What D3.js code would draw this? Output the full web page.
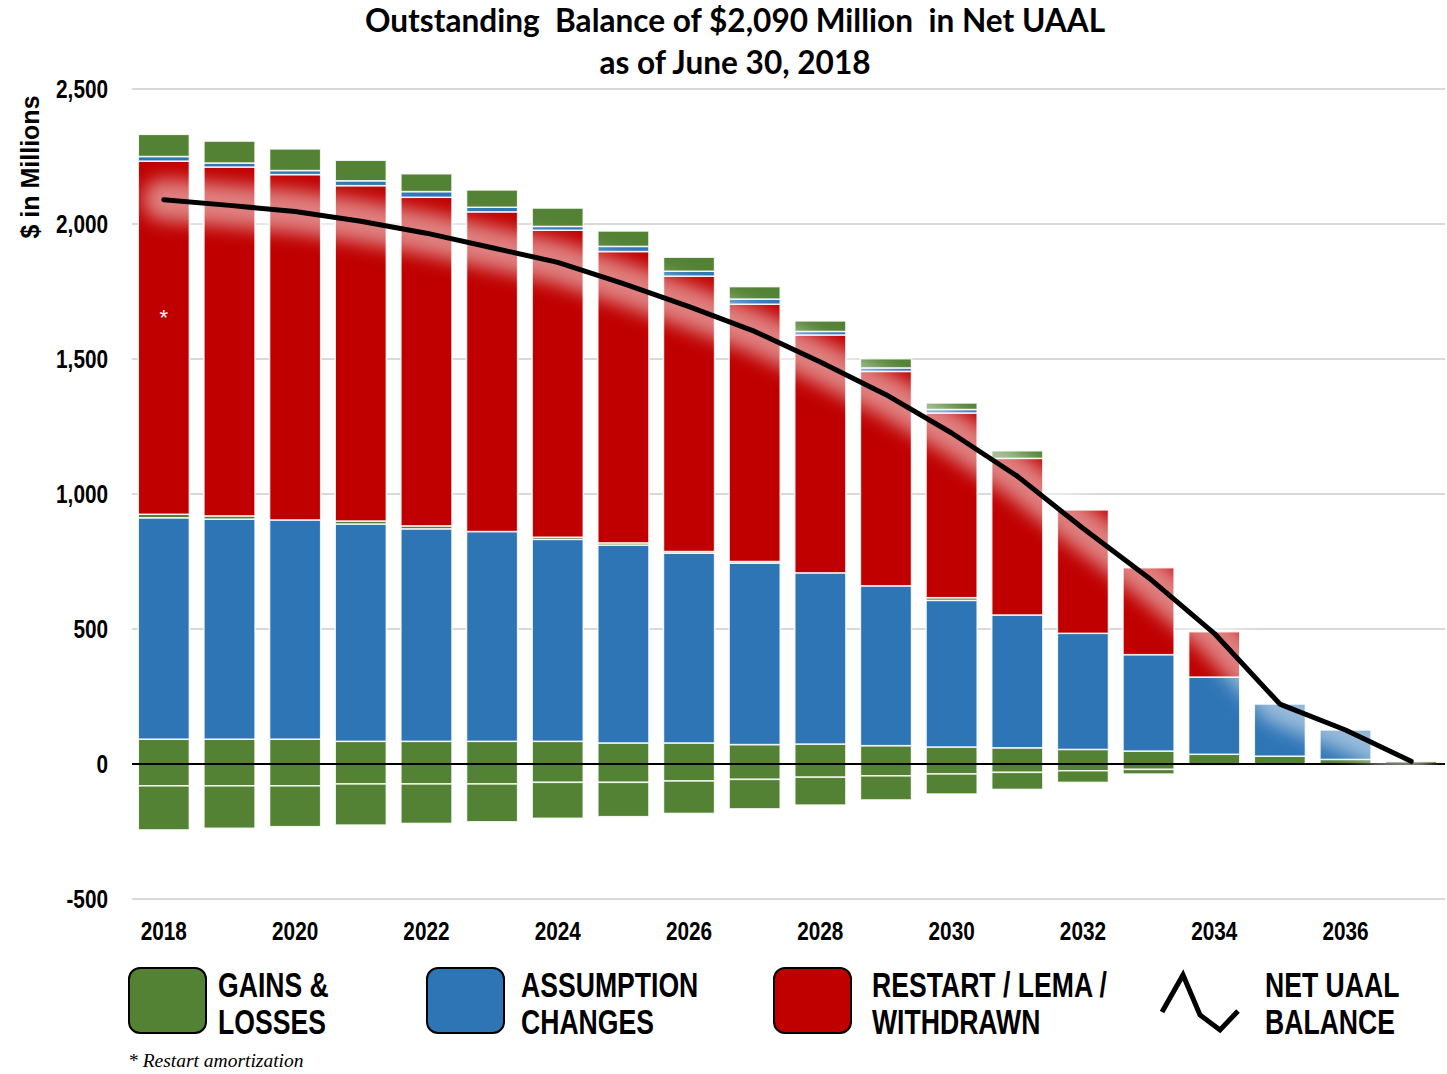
<!DOCTYPE html>
<html><head><meta charset="utf-8">
<script src="https://cdn.jsdelivr.net/npm/d3@7"></script>
<style>
html,body{margin:0;padding:0;background:#fff;}
svg{display:block;}
.narrow{font-family:"Liberation Sans",Arial,sans-serif;font-weight:bold;}
</style></head>
<body>
<svg id="chart" width="1447" height="1074"></svg>
<script>
const years = [2018,2019,2020,2021,2022,2023,2024,2025,2026,2027,2028,2029,2030,2031,2032,2033,2034,2035,2036,2037];
const gainsLossesBase   = [92,92,92,84,84,84,84,78,78,72,74,68,63,60,54,48,36,29,17,10];
const assumptionChanges = [820,815,812,805,787,777,748,733,703,672,634,592,543,492,430,357,286,193,109,0];
const gainsLossesMid    = [13,12,0,11,11,0,8,8,6,6,0,0,10,0,0,0,0,0,0,0];
const restartLemaWithdrawn = [1308,1292,1279,1242,1217,1184,1137,1079,1020,953,881,794,684,580,457,322,168,0,0,0];
const assumptionTop     = [17,15,15,18,21,17,14,19,18,19,13,13,13,0,0,0,0,0,0,0];
const gainsLossesTop    = [82,81,80,76,66,64,68,57,52,46,39,34,24,28,0,0,0,0,0,0];
const gainsLossesNeg1   = [-81,-81,-81,-74,-74,-74,-68,-68,-63,-57,-49,-44,-37,-31,-25,-20,-6,0,0,0];
const gainsLossesNeg2   = [-163,-157,-151,-152,-146,-140,-133,-127,-120,-109,-103,-89,-74,-63,-43,-17,0,0,0,0];
const netUAAL = [2090,2069,2046,2010,1966,1912,1858,1779,1694,1602,1489,1368,1226,1066,873,690,484,222,126,10];
const yTicks = [-500,0,500,1000,1500,2000,2500];
const xTickYears = [2018,2020,2022,2024,2026,2028,2030,2032,2034,2036];

const GREEN="#548235", BLUE="#2E75B6", RED="#C00000";
const keys = ["glBase","assump","glMid","restart","assumpTop","glTop","glNeg1","glNeg2"];
const colorOf = {glBase:GREEN,assump:BLUE,glMid:GREEN,restart:RED,assumpTop:BLUE,glTop:GREEN,glNeg1:GREEN,glNeg2:GREEN};
const rows = years.map((y,i)=>({year:y,glBase:gainsLossesBase[i],assump:assumptionChanges[i],glMid:gainsLossesMid[i],
  restart:restartLemaWithdrawn[i],assumpTop:assumptionTop[i],glTop:gainsLossesTop[i],glNeg1:gainsLossesNeg1[i],glNeg2:gainsLossesNeg2[i]}));

const svg = d3.select("#chart");
const x = d3.scaleBand().domain(years).range([131,1444]).paddingInner(0.222).paddingOuter(0.111);
const y = d3.scaleLinear().domain([-500,2500]).range([899,89]);
const xL = 132, xR = 1445;

function ntext(g, px, py, txt, size, sx, anchor){
  return g.append("text").attr("class","narrow")
    .attr("transform",`translate(${px},${py}) scale(${sx},1)`)
    .attr("dy","0.36em").attr("text-anchor",anchor||"start").attr("font-size",size).attr("fill","#000").text(txt);
}

const defs = svg.append("defs");
const f = defs.append("filter").attr("id","glow").attr("x","-20%").attr("y","-20%").attr("width","140%").attr("height","140%");
f.append("feGaussianBlur").attr("stdDeviation",9);

// gridlines
svg.append("g").selectAll("line").data(yTicks.filter(t=>t!==0)).join("line")
  .attr("x1",xL).attr("x2",xR).attr("y1",d=>y(d)).attr("y2",d=>y(d))
  .attr("stroke","#d9d9d9").attr("stroke-width",2);

// y tick labels
const fmt = d=>d3.format(",")(d).replace("\u2212","-");
const yg = svg.append("g");
yTicks.forEach(t=>ntext(yg,108,y(t),fmt(t),25,0.83,"end"));

// stacked bars
const series = d3.stack().keys(keys).offset(d3.stackOffsetDiverging)(rows);
svg.append("g").selectAll("g").data(series).join("g").attr("fill",s=>colorOf[s.key])
  .selectAll("rect").data(s=>s.filter(d=>d[1]!==d[0])).join("rect")
  .attr("x",d=>x(d.data.year)).attr("width",x.bandwidth())
  .attr("y",d=>y(Math.max(d[0],d[1]))).attr("height",d=>Math.abs(y(d[0])-y(d[1])))
  .attr("stroke","#fff").attr("stroke-opacity",0.85).attr("stroke-width",1.5);

// zero line
svg.append("line").attr("x1",xL).attr("x2",xR).attr("y1",y(0)).attr("y2",y(0)).attr("stroke","#000").attr("stroke-width",2);

// asterisk
svg.append("text").attr("x",x(2018)+x.bandwidth()/2).attr("y",y(1670)).attr("dy","0.55em").attr("text-anchor","middle")
  .attr("font-family","Liberation Sans, Arial, sans-serif").attr("font-size",22).attr("fill","#fff").text("*");

// net line with glow
const line = d3.line().x((d,i)=>x(years[i])+x.bandwidth()/2).y(d=>y(d));
svg.append("path").datum(netUAAL).attr("d",line).attr("fill","none").attr("stroke","#fff")
  .attr("stroke-width",42).attr("stroke-opacity",0.5).attr("stroke-linecap","round").attr("stroke-linejoin","round").attr("filter","url(#glow)");
svg.append("path").datum(netUAAL).attr("d",line).attr("fill","none").attr("stroke","#000")
  .attr("stroke-width",5).attr("stroke-linejoin","round").attr("stroke-linecap","round");

// x labels
const xg = svg.append("g");
xTickYears.forEach(t=>ntext(xg,x(t)+x.bandwidth()/2,931,String(t),25,0.83,"middle"));

// y axis title
svg.append("text").attr("class","narrow").attr("transform","translate(30,167) rotate(-90)")
  .attr("text-anchor","middle").attr("dy","0.36em").attr("font-size",25).text("$ in Millions");

// title
const tg = svg.append("g").attr("font-family","Lato, 'Open Sans', sans-serif").attr("font-weight","bold").attr("font-size",31.6).attr("text-anchor","middle");
tg.append("text").attr("x",735).attr("y",21).attr("dy","0.36em").attr("xml:space","preserve").text("Outstanding  Balance of $2,090 Million  in Net UAAL");
tg.append("text").attr("x",735).attr("y",63).attr("dy","0.36em").text("as of June 30, 2018");

// legend
const legendItems = [
  {x:129,color:GREEN,lines:["GAINS &","LOSSES"],tx:218},
  {x:427,color:BLUE,lines:["ASSUMPTION","CHANGES"],tx:521},
  {x:774,color:RED,lines:["RESTART / LEMA /","WITHDRAWN"],tx:872},
];
const lg = svg.append("g");
legendItems.forEach(it=>{
  lg.append("rect").attr("x",it.x).attr("y",968).attr("width",77).attr("height",65).attr("rx",11)
    .attr("fill",it.color).attr("stroke","#000").attr("stroke-width",2);
  it.lines.forEach((t,j)=>ntext(lg,it.tx,984+j*37,t,35,0.76));
});
lg.append("path").attr("d","M1162,1012 L1183,975 L1200,1015 L1220,1030 L1238,1011").attr("fill","none")
  .attr("stroke","#000").attr("stroke-width",5).attr("stroke-linejoin","miter");
["NET UAAL","BALANCE"].forEach((t,j)=>ntext(lg,1265,984+j*37,t,35,0.76));

// footnote
svg.append("text").attr("x",128).attr("y",1060).attr("dy","0.36em").attr("font-family","'Liberation Serif','Times New Roman',serif")
  .attr("font-style","italic").attr("font-size",19.5).text("* Restart amortization");
</script>
</body></html>
